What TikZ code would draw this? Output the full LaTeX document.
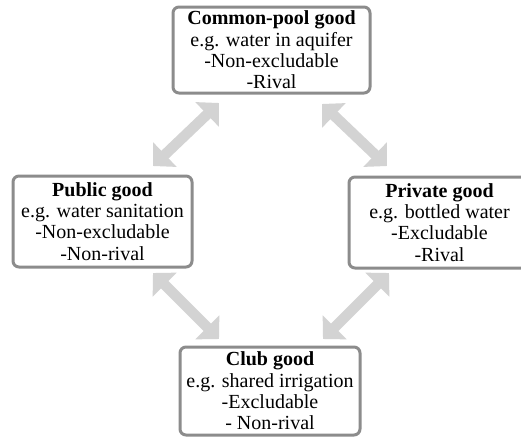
\documentclass[tikz,border=0pt]{standalone}
\usepackage{fontspec}
\setmainfont{Liberation Serif}
\usetikzlibrary{arrows.meta}
\definecolor{boxborder}{HTML}{8C8C8C}
\definecolor{arrowgray}{HTML}{D3D3D3}
\begin{document}
\begin{tikzpicture}[x=1pt,y=-1pt,
  goodbox/.style={draw=boxborder, line width=3pt, rounded corners=6pt, fill=white,
    align=center, inner sep=0pt, font=\fontsize{20}{21.3}\selectfont},
  bigarrow/.style={draw=arrowgray, line width=10.5pt,
    {Triangle[width=33pt,length=16.5pt]}-{Triangle[width=33pt,length=16.5pt]}}]
\useasboundingbox (0,0) rectangle (521,437);
\node[goodbox, minimum width=197pt, minimum height=86pt] (cp) at (271.5,50)
  {\textbf{Common-pool good}\\e.g. water in aquifer\\-Non-excludable\\-Rival};
\node[goodbox, minimum width=179pt, minimum height=91pt] (pub) at (102.5,221.5)
  {\textbf{Public good}\\e.g. water sanitation\\-Non-excludable\\-Non-rival};
\node[goodbox, minimum width=181pt, minimum height=91pt] (priv) at (439.5,222.5)
  {\textbf{Private good}\\e.g. bottled water\\-Excludable\\-Rival};
\node[goodbox, minimum width=180pt, minimum height=88pt] (club) at (270,391)
  {\textbf{Club good}\\e.g. shared irrigation\\-Excludable\\- Non-rival};
\coordinate (a1s) at (153,166);
\coordinate (a1e) at (219,103);
\coordinate (a2s) at (322,104);
\coordinate (a2e) at (387,166);
\coordinate (a3s) at (153,273);
\coordinate (a3e) at (219,339);
\coordinate (a4s) at (389,273);
\coordinate (a4e) at (323,339);
\draw[bigarrow] (a1s) -- (a1e);
\draw[bigarrow] (a2s) -- (a2e);
\draw[bigarrow] (a3s) -- (a3e);
\draw[bigarrow] (a4s) -- (a4e);
\end{tikzpicture}
\end{document}
